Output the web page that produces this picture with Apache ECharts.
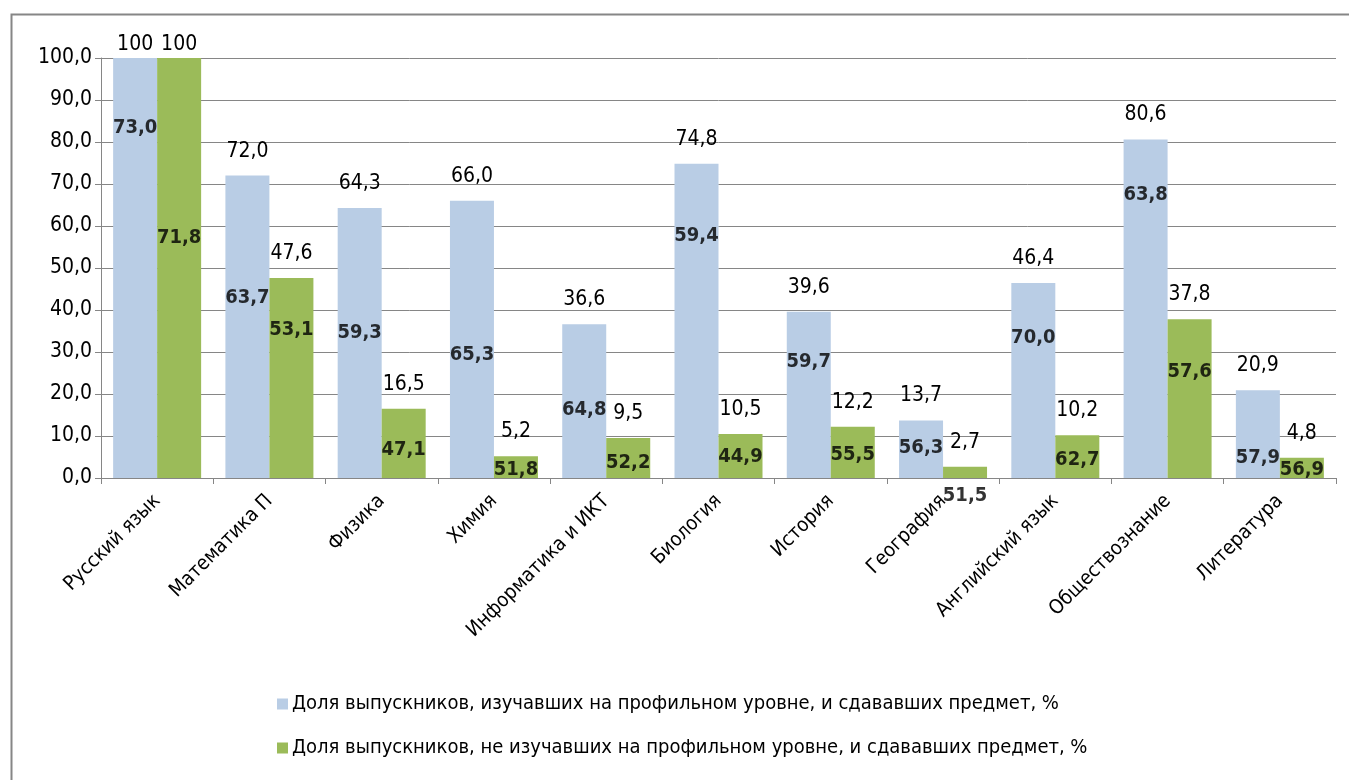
<!DOCTYPE html>
<html>
<head>
<meta charset="utf-8">
<script src="https://cdn.jsdelivr.net/npm/echarts@6/dist/echarts.min.js"></script>
<style>
html,body{margin:0;padding:0;background:#fff;}
#c{width:1349px;height:780px;}
</style>
</head>
<body>
<div id="c"></div>
<script>
// ---- data ----
const categories = ['Русский язык','Математика П','Физика','Химия','Информатика и ИКТ','Биология','История','География','Английский язык','Обществознание','Литература'];
const seriesNames = ['Доля выпускников, изучавших на профильном уровне, и сдававших предмет, %','Доля выпускников, не изучавших на профильном уровне, и сдававших предмет, %'];
const profileShare = [100, 72.0, 64.3, 66.0, 36.6, 74.8, 39.6, 13.7, 46.4, 80.6, 20.9];
const nonProfileShare = [100, 47.6, 16.5, 5.2, 9.5, 10.5, 12.2, 2.7, 10.2, 37.8, 4.8];
// bold numbers written on the bars
const profileScore = [73.0, 63.7, 59.3, 65.3, 64.8, 59.4, 59.7, 56.3, 70.0, 63.8, 57.9];
const nonProfileScore = [71.8, 53.1, 47.1, 51.8, 52.2, 44.9, 55.5, 51.5, 62.7, 57.6, 56.9];
const yTicks = [0, 10, 20, 30, 40, 50, 60, 70, 80, 90, 100];

// ---- layout (where the bold numbers sit, in axis units) ----
const profileScorePos = [83.3, 42.9, 34.5, 29.3, 16.2, 57.6, 27.6, 7.1, 33.3, 67.4, 4.8];
const nonProfileScorePos = [57.1, 35.2, 6.7, 1.9, 3.6, 5.0, 5.5, -4.3, 4.3, 25.2, 1.9];

const FONT = '"Liberation Sans Narrow","DejaVu Sans Condensed","Open Sans",sans-serif';
const fmt = v => v.toFixed(1).replace('.', ',');
const topFmt = v => (v === 100 ? '100' : fmt(v));
// bars reaching the top of the plot get their label pulled in, as in the original
const barData = arr => arr.map(v => (v >= 100 ? {value: v, label: {distance: 3}} : v));

const chart = echarts.init(document.getElementById('c'));
chart.setOption({
  animation: false,
  backgroundColor: '#fff',
  textStyle: {fontFamily: FONT},
  graphic: [{
    type: 'rect', left: 9, top: 12, silent: true,
    shape: {width: 1400, height: 820},
    style: {fill: 'none', stroke: '#868686', lineWidth: 2}
  }],
  grid: {left: 101, right: 13, top: 58, bottom: 302, containLabel: false},
  legend: {
    orient: 'vertical', left: 272, top: 689, itemGap: 24,
    itemWidth: 11, itemHeight: 11, icon: 'rect',
    data: seriesNames,
    textStyle: {fontFamily: FONT, fontSize: 20, color: '#000', padding: [0, 0, 0, -1]}
  },
  xAxis: {
    type: 'category', data: categories,
    axisLine: {lineStyle: {color: '#868686', width: 1}},
    axisTick: {show: true, alignWithLabel: false, length: 6, lineStyle: {color: '#868686'}},
    axisLabel: {rotate: 45, fontSize: 20, color: '#000', margin: 20, interval: 0, fontFamily: FONT}
  },
  yAxis: {
    type: 'value', min: yTicks[0], max: yTicks[yTicks.length - 1], interval: 10,
    axisLine: {show: true, lineStyle: {color: '#868686'}},
    axisTick: {show: true, length: 6, lineStyle: {color: '#868686'}},
    splitLine: {lineStyle: {color: '#868686', width: 1}},
    axisLabel: {fontSize: 21, color: '#000', margin: 9, formatter: v => fmt(v), fontFamily: FONT}
  },
  series: [
    {
      name: seriesNames[0], type: 'bar', data: barData(profileShare), barWidth: 44, barGap: '0%',
      itemStyle: {color: '#B9CDE5'},
      label: {show: true, position: 'top', fontSize: 21, color: '#000', distance: 14, fontFamily: FONT, formatter: p => topFmt(p.value)}
    },
    {
      name: seriesNames[1], type: 'bar', data: barData(nonProfileShare), barWidth: 44, barGap: '0%',
      itemStyle: {color: '#9BBB59'},
      label: {show: true, position: 'top', fontSize: 21, color: '#000', distance: 14, fontFamily: FONT, formatter: p => topFmt(p.value)}
    },
    {
      type: 'scatter', symbolSize: 0, clip: false, silent: true, z: 5,
      data: categories.map((c, i) => [i, profileScorePos[i], profileScore[i]]),
      label: {show: true, position: 'inside', offset: [-22, 0], fontSize: 20, fontWeight: 'bold', color: '#000', fontFamily: FONT,
        formatter: p => fmt(p.value[2])}
    },
    {
      type: 'scatter', symbolSize: 0, clip: false, silent: true, z: 5,
      data: categories.map((c, i) => [i, nonProfileScorePos[i], nonProfileScore[i]]),
      label: {show: true, position: 'inside', offset: [22, 0], fontSize: 20, fontWeight: 'bold', color: '#000', fontFamily: FONT,
        formatter: p => fmt(p.value[2])}
    }
  ]
});
</script>
</body>
</html>
